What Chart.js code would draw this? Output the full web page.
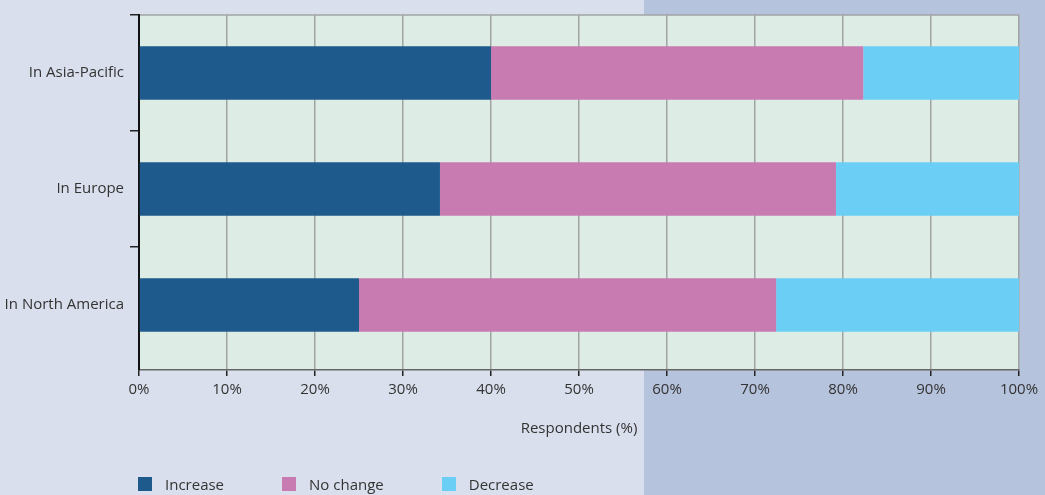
<!DOCTYPE html>
<html>
<head>
  <script src="https://cdn.jsdelivr.net/npm/chart.js@4/dist/chart.umd.min.js"></script>
  <style>
    body {
      margin: 0;
      width: 1045px;
      height: 495px;
      overflow: hidden;
      background: linear-gradient(to right, #d9dfec 0, #d9dfec 644px, #b6c3dc 644px, #b6c3dc 100%);
      font-family: "Open Sans", sans-serif;
    }
    .wrap {
      position: relative;
      width: 1045px;
      height: 495px;
    }
    .legend {
      position: absolute;
      left: 138px;
      top: 476px;
      display: flex;
      align-items: center;
      font-size: 15px;
      color: #333;
    }
    .legend-item {
      display: flex;
      align-items: center;
      margin-right: 58px;
      line-height: 16px;
    }
    .swatch {
      width: 14px;
      height: 14px;
      margin-right: 13px;
    }
  </style>
</head>
<body>
  <div class="wrap">
    <canvas id="chart" width="1045" height="495"></canvas>
    <div class="legend" id="legend"></div>
  </div>

  <script>
    const regions = ['In Asia-Pacific', 'In Europe', 'In North America'];
    const increase = [40, 34.2, 25];
    const noChange = [42.3, 45, 47.4];
    const decrease = [17.7, 20.8, 27.6];
    const seriesNames = ['Increase', 'No change', 'Decrease'];
    const seriesColors = ['#1f5a8c', '#c77bb1', '#6bcff5'];
    const xTicks = [0, 10, 20, 30, 40, 50, 60, 70, 80, 90, 100];

    const textColor = '#333';
    const font = { family: '"Open Sans", sans-serif', size: 15 };

    // light green plot background plus the grey top edge of the frame
    const plotFrame = {
      id: 'plotFrame',
      afterLayout(chart) {
        // category band stops a few px above the x axis line
        const y = chart.scales.y;
        const bottom = y.bottom;
        y.bottom = bottom - 7;
        y.configure();
        y.bottom = bottom;
      },
      beforeDraw(chart) {
        const { ctx, chartArea: a } = chart;
        ctx.save();
        ctx.fillStyle = '#deece6';
        ctx.fillRect(a.left, a.top, a.right - a.left, a.bottom - a.top);
        ctx.strokeStyle = '#a0a4a4';
        ctx.lineWidth = 1.5;
        ctx.beginPath();
        ctx.moveTo(a.left, a.top);
        ctx.lineTo(a.right, a.top);
        ctx.stroke();
        ctx.restore();
      }
    };

    const ctx = document.getElementById('chart').getContext('2d');
    const chart = new Chart(ctx, {
      type: 'bar',
      data: {
        labels: regions,
        datasets: [increase, noChange, decrease].map((values, i) => ({
          label: seriesNames[i],
          data: values,
          backgroundColor: seriesColors[i],
          borderWidth: 0,
          categoryPercentage: 1,
          barPercentage: 0.46
        }))
      },
      options: {
        indexAxis: 'y',
        responsive: false,
        animation: false,
        layout: { padding: { top: 11, right: 26, bottom: 50, left: 0 } },
        plugins: {
          legend: { display: false },
          tooltip: { enabled: false }
        },
        scales: {
          x: {
            stacked: true,
            min: 0,
            max: 100,
            afterBuildTicks: scale => {
              scale.ticks = xTicks.map(v => ({ value: v }));
            },
            afterFit: scale => { scale.height = 75; },
            ticks: {
              color: textColor,
              font: font,
              padding: 5,
              maxRotation: 0,
              callback: v => v + '%'
            },
            grid: {
              color: '#a0a4a4',
              lineWidth: 1.5,
              tickColor: '#222',
              tickLength: 6
            },
            border: { color: '#666', width: 1.5 },
            title: {
              display: true,
              text: 'Respondents (%)',
              color: textColor,
              font: font,
              padding: { top: 0, bottom: 7 }
            }
          },
          y: {
            stacked: true,
            afterFit: scale => { scale.width = 139; },
            ticks: {
              color: textColor,
              font: font,
              padding: 6
            },
            grid: {
              drawOnChartArea: false,
              offset: true,
              color: '#222',
              // the closing line below the last band has no tick context: skip its mark
              tickColor: c => c.tick ? '#222' : 'rgba(0,0,0,0)',
              tickLength: 9,
              lineWidth: 1.5
            },
            border: { color: '#111', width: 2 }
          }
        }
      },
      plugins: [plotFrame]
    });

    // legend built from the chart's datasets
    const legend = document.getElementById('legend');
    chart.data.datasets.forEach(ds => {
      const item = document.createElement('div');
      item.className = 'legend-item';
      item.innerHTML = `<div class="swatch" style="background:${ds.backgroundColor}"></div><span>${ds.label}</span>`;
      legend.appendChild(item);
    });
  </script>
</body>
</html>
